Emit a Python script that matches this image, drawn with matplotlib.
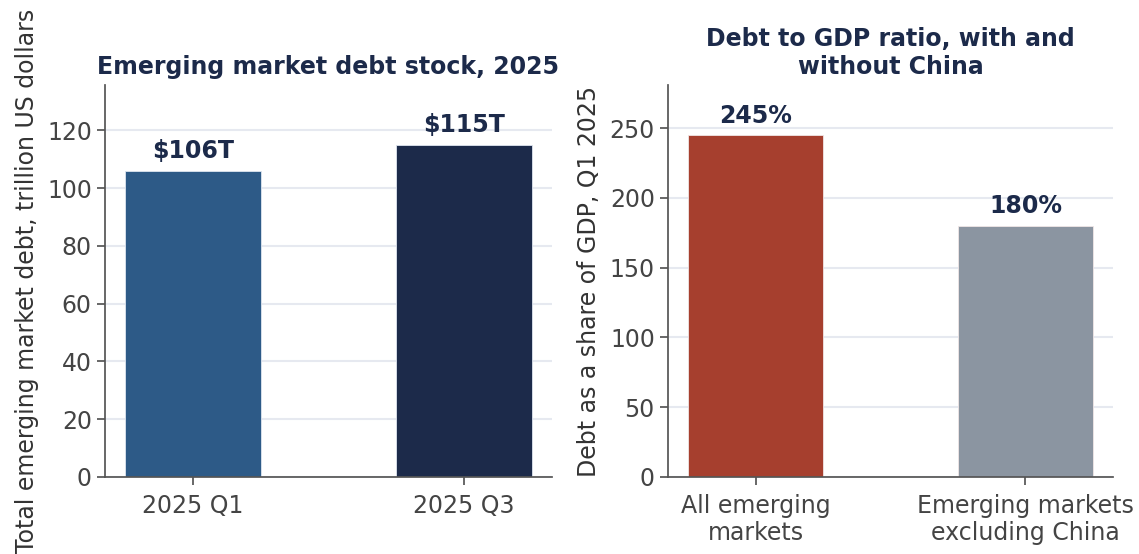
import matplotlib
matplotlib.use("Agg")
import matplotlib.pyplot as plt

# Debt stock values
stock_periods = ["2025 Q1", "2025 Q3"]
stock_values = [106, 115]
stock_labels = ["$106T", "$115T"]

# Debt to GDP ratios
ratio_groups = ["All emerging\nmarkets", "Emerging markets\nexcluding China"]
ratio_values = [245, 180]
ratio_labels = ["245%", "180%"]

navy = "#1c2a4a"
tick_color = "#444444"
spine_color = "#555555"
grid_color = "#e6e9f0"

plt.rcParams["font.family"] = "DejaVu Sans"

fig = plt.figure(figsize=(11.39, 5.54), dpi=100)
ax1 = fig.add_axes([0.0922, 0.139, 0.3924, 0.7076])
ax2 = fig.add_axes([0.5865, 0.139, 0.3907, 0.7076])


def style(ax):
    for s in ["top", "right"]:
        ax.spines[s].set_visible(False)
    for s in ["left", "bottom"]:
        ax.spines[s].set_color(spine_color)
        ax.spines[s].set_linewidth(1.25)
    ax.yaxis.grid(True, color=grid_color, linewidth=1.5)
    ax.set_axisbelow(True)
    ax.tick_params(axis="both", colors=spine_color, labelcolor=tick_color,
                   labelsize=17, length=6, width=1.25)
    ax.tick_params(axis="x", pad=6)


x1 = range(len(stock_periods))
ax1.bar(x1, stock_values, width=0.5, color=["#2d5a87", navy],
        edgecolor="#dfe6f0", linewidth=0.6)
ax1.set_xticks(list(x1))
ax1.set_xticklabels(stock_periods)
ax1.set_ylim(0, max(stock_values) * 1.18)
ax1.set_yticks(range(0, 121, 20))
for i, (v, t) in enumerate(zip(stock_values, stock_labels)):
    ax1.text(i, v + 2.6, t, ha="center", va="bottom", fontsize=17,
             fontweight="bold", color=navy)
ax1.set_title("Emerging market debt stock, 2025", fontsize=17,
              fontweight="bold", color=navy, pad=8)
ax1.set_ylabel("Total emerging market debt, trillion US dollars",
               fontsize=17, color="#333333", labelpad=6)
style(ax1)

x2 = range(len(ratio_groups))
ax2.bar(x2, ratio_values, width=0.5, color=["#a63f2e", "#8b95a1"],
        edgecolor="#f0e6e6", linewidth=0.6)
ax2.set_xticks(list(x2))
ax2.set_xticklabels(ratio_groups)
ax2.set_ylim(0, max(ratio_values) * 1.147)
ax2.set_yticks(range(0, 251, 50))
for i, (v, t) in enumerate(zip(ratio_values, ratio_labels)):
    ax2.text(i, v + 5.5, t, ha="center", va="bottom", fontsize=17,
             fontweight="bold", color=navy)
ax2.set_title("Debt to GDP ratio, with and\nwithout China", fontsize=17,
              fontweight="bold", color=navy, pad=8)
ax2.set_ylabel("Debt as a share of GDP, Q1 2025", fontsize=17,
               color="#333333", labelpad=6)
style(ax2)

fig.savefig("out.png", dpi=100, facecolor="white")
